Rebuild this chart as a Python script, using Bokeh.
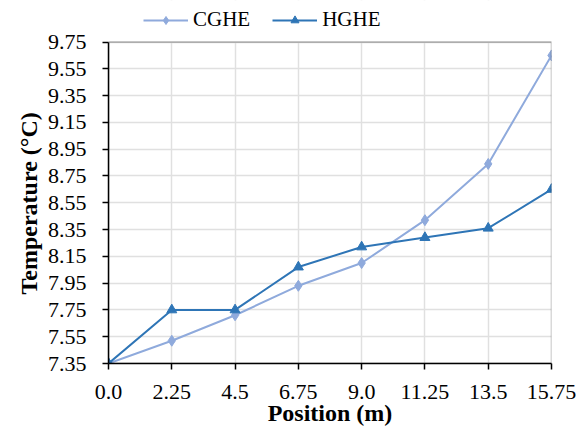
from bokeh.plotting import figure
from bokeh.models import Range1d, FixedTicker, Legend, LegendItem, BoxAnnotation, Title
from bokeh.embed import file_html
from bokeh.resources import INLINE

positions = [0.0, 2.25, 4.5, 6.75, 9.0, 11.25, 13.5, 15.75]
x_tick_labels = ["0.0", "2.25", "4.5", "6.75", "9.0", "11.25", "13.5", "15.75"]
cghe = [7.35, 7.52, 7.71, 7.93, 8.10, 8.42, 8.84, 9.65]
hghe = [7.35, 7.75, 7.75, 8.07, 8.22, 8.29, 8.36, 8.65]
y_ticks = [7.35, 7.55, 7.75, 7.95, 8.15, 8.35, 8.55, 8.75, 8.95, 9.15, 9.35, 9.55, 9.75]

FONT = "Liberation Serif"
C1 = "#8faadc"
C2 = "#2e75b6"

X0, X1 = positions[0], positions[-1]
Y0, Y1 = y_ticks[0], y_ticks[-1]

# frame extends above the data box to leave room for the legend
p = figure(width=588, height=428, output_backend="svg", toolbar_location=None,
           x_range=Range1d(X0, X1), y_range=Range1d(Y0, 10.06),
           min_border_left=108, min_border_right=37, min_border_top=0, min_border_bottom=61)
p.background_fill_color = "white"
p.border_fill_color = "white"
p.outline_line_color = None

p.xgrid.grid_line_color = "#e0e0e0"
p.ygrid.grid_line_color = "#e0e0e0"
p.xgrid.grid_line_width = 1.5
p.ygrid.grid_line_width = 1.5

l1 = p.line(positions, cghe, line_color=C1, line_width=2)
s1 = p.scatter(positions, cghe, marker="diamond", size=11, fill_color=C1, line_color=C1)
l2 = p.line(positions, hghe, line_color=C2, line_width=2)
s2 = p.scatter(positions, hghe, marker="triangle", size=10, fill_color=C2, line_color=C2)

# white cover over the area above the data box, then the black box border
p.add_layout(BoxAnnotation(bottom=Y1, fill_color="white", fill_alpha=1.0, line_color=None))
p.add_layout(BoxAnnotation(left=X0, right=X1, bottom=Y0, top=Y1, fill_alpha=0,
                           line_color="black", line_width=1.5))

p.xaxis.ticker = FixedTicker(ticks=positions)
p.xaxis.major_label_overrides = {pos: lab for pos, lab in zip(positions, x_tick_labels)}
p.yaxis.ticker = FixedTicker(ticks=y_ticks)
p.yaxis.major_label_overrides = {t: f"{t:.2f}" for t in y_ticks}
p.yaxis.bounds = (Y0, Y1)

for ax in (p.xaxis, p.yaxis):
    ax.axis_line_color = "black"
    ax.axis_line_width = 1.5
    ax.major_tick_line_color = "black"
    ax.major_tick_line_width = 1.5
    ax.major_tick_in = 0
    ax.major_tick_out = 6
    ax.minor_tick_line_color = None
    ax.major_label_text_font = FONT
    ax.major_label_text_font_size = "22px"
    ax.major_label_text_color = "black"
    ax.axis_label_text_font = FONT
    ax.axis_label_text_font_size = "24px"
    ax.axis_label_text_font_style = "bold"
    ax.axis_label_text_color = "black"

p.xaxis.axis_label = "Position (m)"
p.xaxis.major_label_standoff = 15
p.xaxis.axis_label_standoff = -2
p.yaxis.major_label_standoff = 16

# y-axis title placed as a side title so it can sit centred on the data box
ytitle = Title(text="Temperature (°C)", align="left", offset=69, standoff=6,
               text_font=FONT, text_font_size="24px", text_font_style="bold",
               text_color="black")
p.add_layout(ytitle, "left")

legend = Legend(items=[LegendItem(label="CGHE", renderers=[l1, s1]),
                       LegendItem(label="HGHE", renderers=[l2, s2])],
                orientation="horizontal", location=(35, 331),
                label_text_font=FONT, label_text_font_size="21px",
                label_text_color="black",
                glyph_width=45, label_standoff=5, spacing=22,
                border_line_color=None, background_fill_alpha=0,
                padding=4, margin=0)
p.add_layout(legend)

open("out.html", "w").write(file_html(p, INLINE))
